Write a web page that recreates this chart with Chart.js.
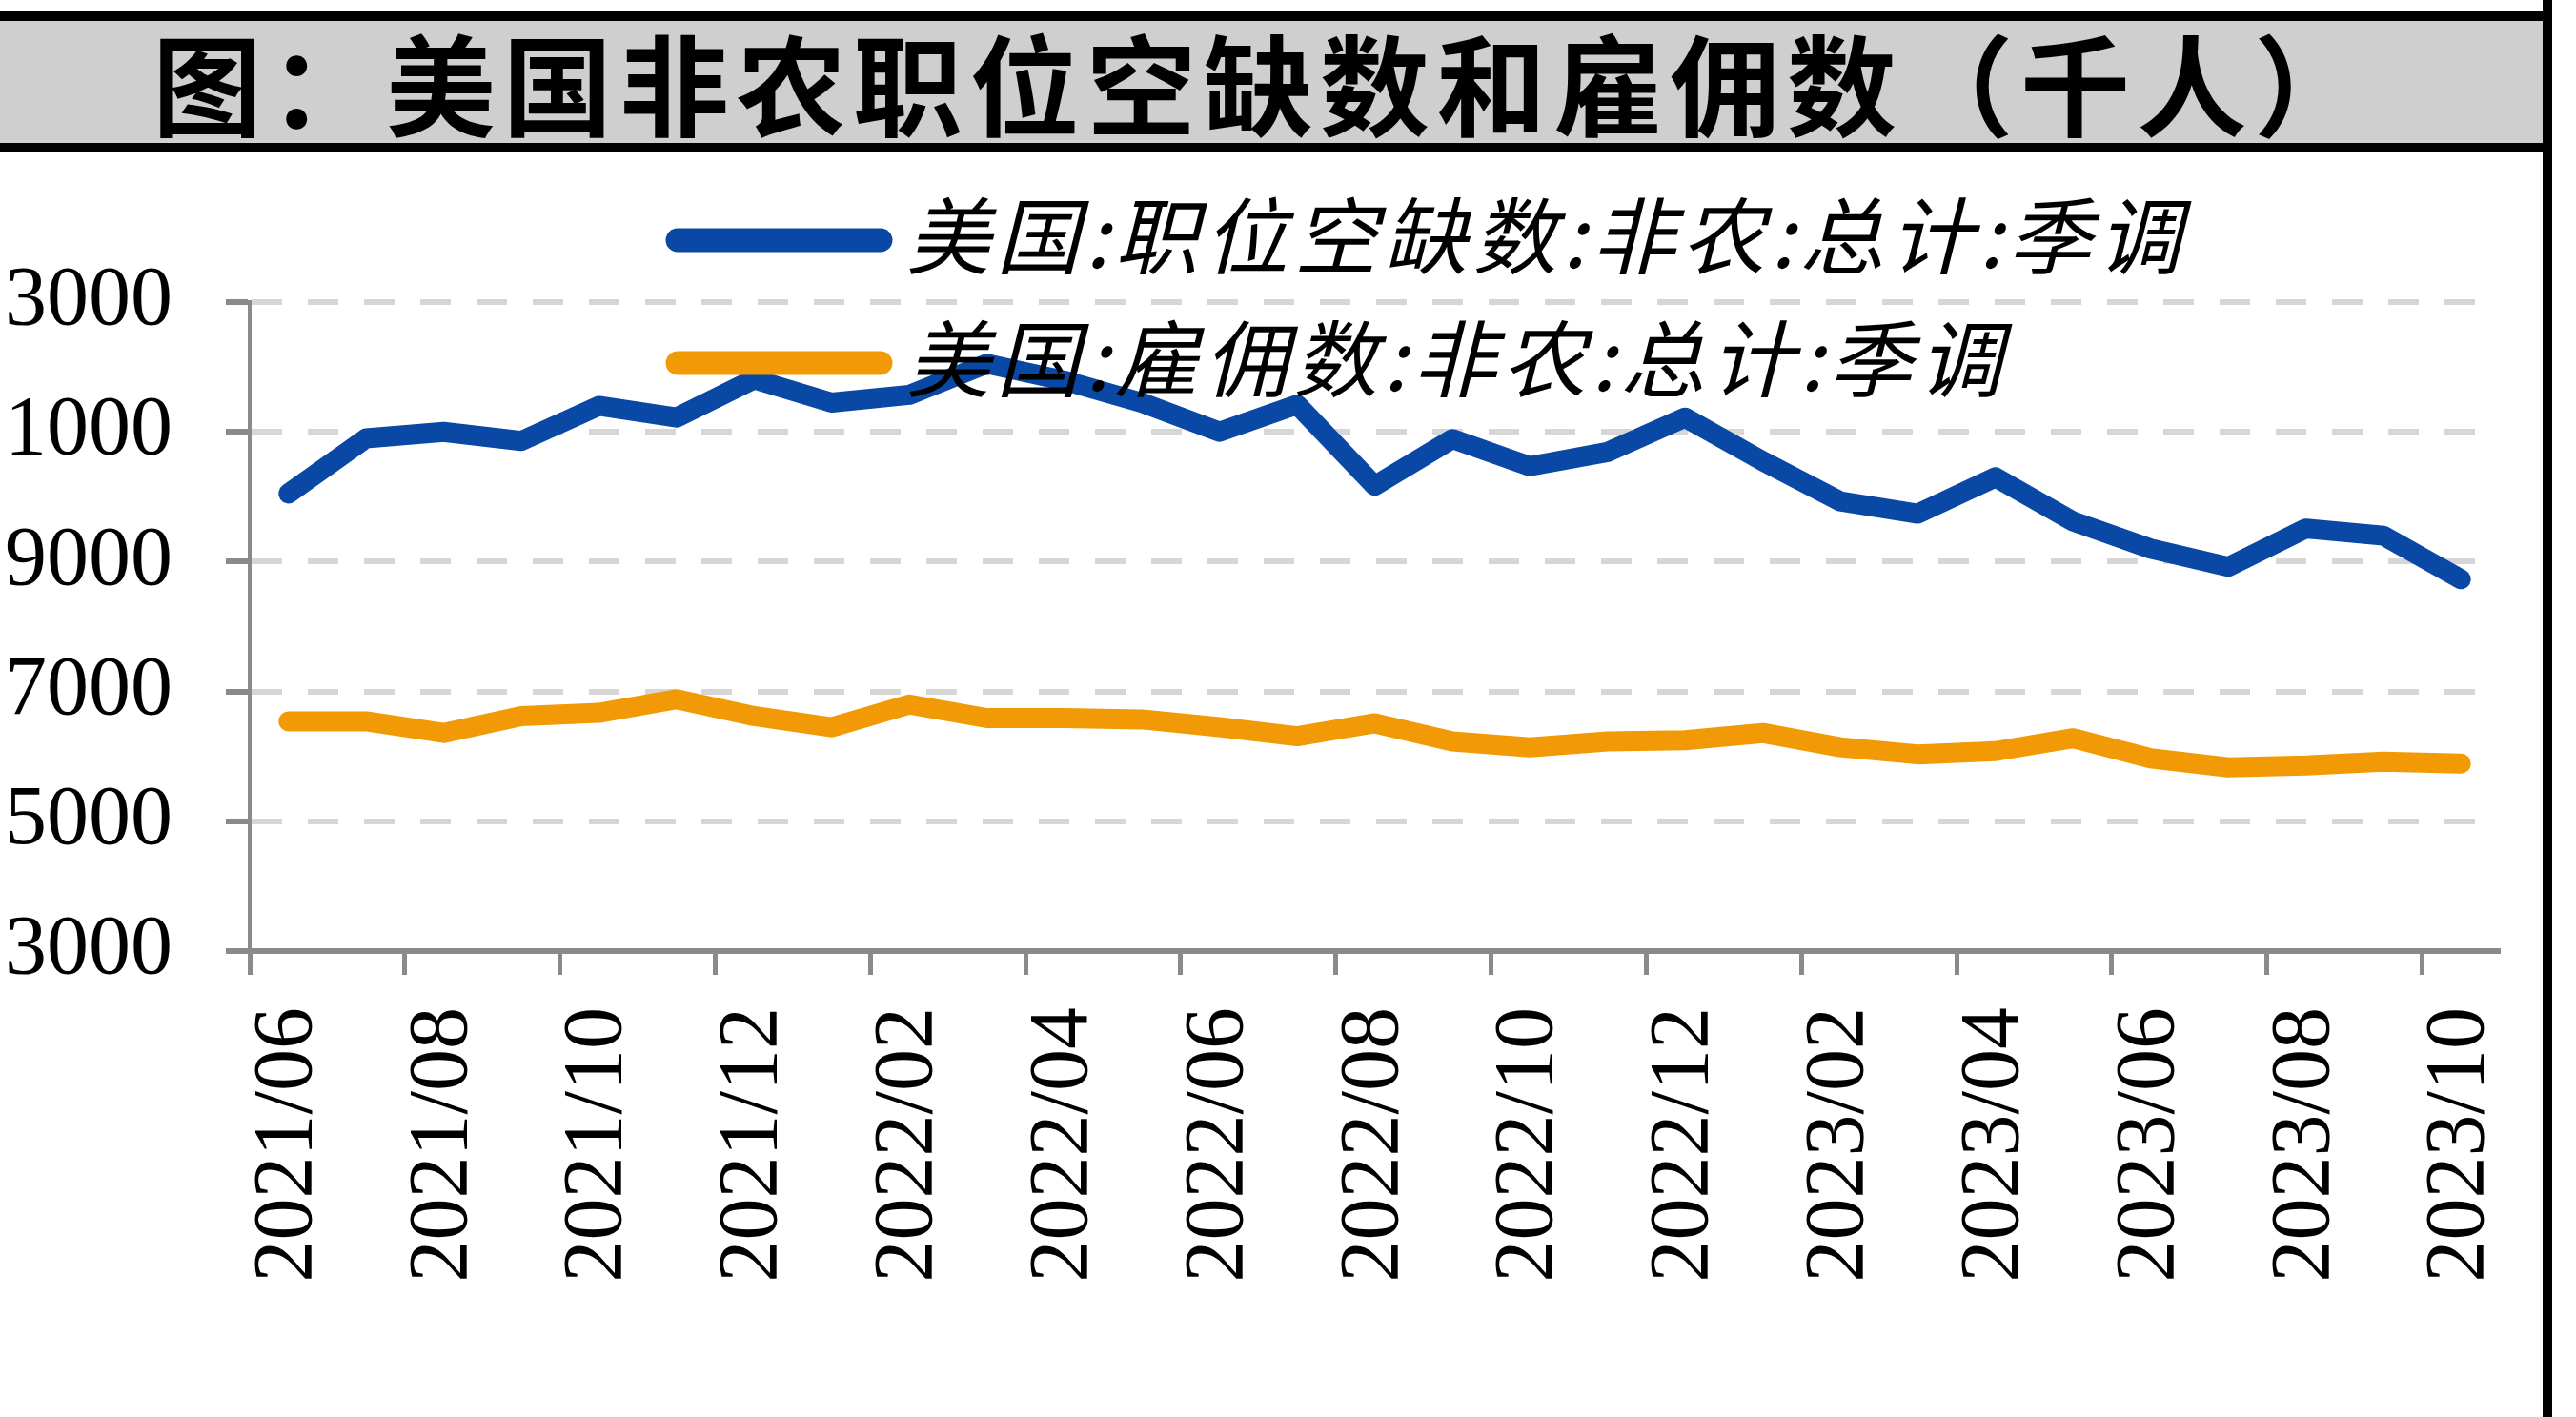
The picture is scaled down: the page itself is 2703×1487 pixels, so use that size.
<!DOCTYPE html>
<html>
<head>
<meta charset="utf-8">
<script src="https://cdn.jsdelivr.net/npm/chart.js@4.4.0/dist/chart.umd.min.js"></script>
<style>
  body { margin: 0; background: #fff; width: 2703px; height: 1487px; overflow: hidden; position: relative; }
  #titleBox {
    position: absolute; left: 0; top: 12px; width: 2668px; height: 128px;
    border-top: 10px solid #000; border-bottom: 10px solid #000;
    background: #cfcfd0; z-index: 2;
  }
  #title {
    position: absolute; left: 160px; top: -21px; line-height: 128px;
    font: bold 115px "Noto Sans CJK SC"; letter-spacing: 7.5px; white-space: nowrap; color: #000;
  }
  #rightRule { position: absolute; left: 2668px; top: 0; width: 10px; height: 1487px; background: #000; z-index: 3; }
  #chart { position: absolute; left: 0; top: 0; z-index: 1; }
</style>
</head>
<body>
<div id="titleBox"><div id="title">图：美国非农职位空缺数和雇佣数（千人）</div></div>
<div id="rightRule"></div>
<canvas id="chart" width="2703" height="1487"></canvas>
<script>
// months on the x axis (monthly, labels every second month)
const months = [
  '2021/06', '2021/07', '2021/08', '2021/09', '2021/10', '2021/11', '2021/12',
  '2022/01', '2022/02', '2022/03', '2022/04', '2022/05', '2022/06', '2022/07',
  '2022/08', '2022/09', '2022/10', '2022/11', '2022/12', '2023/01', '2023/02',
  '2023/03', '2023/04', '2023/05', '2023/06', '2023/07', '2023/08', '2023/09', '2023/10'
];

// 美国:职位空缺数:非农:总计:季调 (thousands)
const openings = [
  10050, 10900, 11000, 10860, 11400, 11220, 11810, 11450, 11570, 12050,
  11790, 11450, 11000, 11420, 10170, 10890, 10470, 10690, 11220, 10550,
  9930, 9740, 10300, 9620, 9200, 8920, 9510, 9400, 8730
];

// 美国:雇佣数:非农:总计:季调 (thousands)
const hires = [
  6540, 6540, 6360, 6620, 6670, 6880, 6620, 6450, 6800, 6590,
  6590, 6570, 6450, 6310, 6510, 6230, 6140, 6230, 6250, 6360,
  6140, 6030, 6080, 6280, 5970, 5830, 5860, 5920, 5890
];

// y tick labels as printed on the chart, bottom to top
const yTickLabels = ['3000', '5000', '7000', '9000', '1000', '3000'];

const seriesNames = ['美国:职位空缺数:非农:总计:季调', '美国:雇佣数:非农:总计:季调'];
const axisGray = '#8a8a8a';

// legend stacked in two rows, drawn over the plot like in the source
const stackedLegend = {
  id: 'stackedLegend',
  afterDatasetsDraw(chart) {
    const { ctx, chartArea } = chart;
    chart.data.datasets.forEach((ds, i) => {
      const y = chartArea.top - 65 + i * 129;
      const x0 = chartArea.left + 449;
      ctx.save();
      ctx.strokeStyle = ds.borderColor;
      ctx.lineWidth = 25;
      ctx.lineCap = 'round';
      ctx.beginPath();
      ctx.moveTo(x0, y);
      ctx.lineTo(x0 + 213, y);
      ctx.stroke();
      ctx.font = 'italic 88px "Noto Sans CJK SC"';
      ctx.letterSpacing = '6px';
      ctx.fillStyle = '#000';
      ctx.textBaseline = 'middle';
      ctx.fillText(ds.label, x0 + 240, y - 4);
      ctx.restore();
    });
  }
};

const ctx = document.getElementById('chart').getContext('2d');

new Chart(ctx, {
  type: 'line',
  data: {
    labels: months,
    datasets: [
      {
        label: seriesNames[0],
        data: openings,
        borderColor: '#0a48a5',
        borderWidth: 21,
        pointRadius: 0,
        borderCapStyle: 'round',
        borderJoinStyle: 'round',
        tension: 0
      },
      {
        label: seriesNames[1],
        data: hires,
        borderColor: '#f29a05',
        borderWidth: 21,
        pointRadius: 0,
        borderCapStyle: 'round',
        borderJoinStyle: 'round',
        tension: 0
      }
    ]
  },
  options: {
    responsive: false,
    animation: false,
    devicePixelRatio: 1,
    layout: { padding: { left: 0, top: 317, right: 80, bottom: 0 } },
    plugins: {
      legend: { display: false },
      tooltip: { enabled: false }
    },
    scales: {
      x: {
        type: 'category',
        offset: true,
        afterFit(scale) {
          scale.height = 489;
          scale.paddingLeft = 0;
          scale.paddingRight = 0;
        },
        grid: {
          offset: true,
          drawOnChartArea: false,
          tickLength: 25,
          tickWidth: 5,
          tickColor: (c) => (c.index % 2 === 0 ? axisGray : 'rgba(0,0,0,0)')
        },
        border: { color: axisGray, width: 6 },
        ticks: {
          autoSkip: false,
          minRotation: 90,
          maxRotation: 90,
          padding: 34,
          color: '#000',
          font: { family: 'Liberation Serif', size: 88 },
          callback: (v, i) => (i % 2 === 0 ? months[i] : '')
        }
      },
      y: {
        min: 3000,
        max: 13000,
        afterFit(scale) {
          scale.width = 262;
          scale.paddingTop = 0;
          scale.paddingBottom = 0;
        },
        grid: {
          color: '#d6d6d6',
          lineWidth: 6,
          tickLength: 25,
          tickWidth: 6,
          tickColor: axisGray,
          tickBorderDash: []
        },
        border: { color: axisGray, width: 4, dash: [32, 27] },
        ticks: {
          stepSize: 2000,
          padding: 56,
          color: '#000',
          font: { family: 'Liberation Serif', size: 88 },
          callback: (v, i) => yTickLabels[i]
        }
      }
    }
  },
  plugins: [stackedLegend]
});
</script>
</body>
</html>
